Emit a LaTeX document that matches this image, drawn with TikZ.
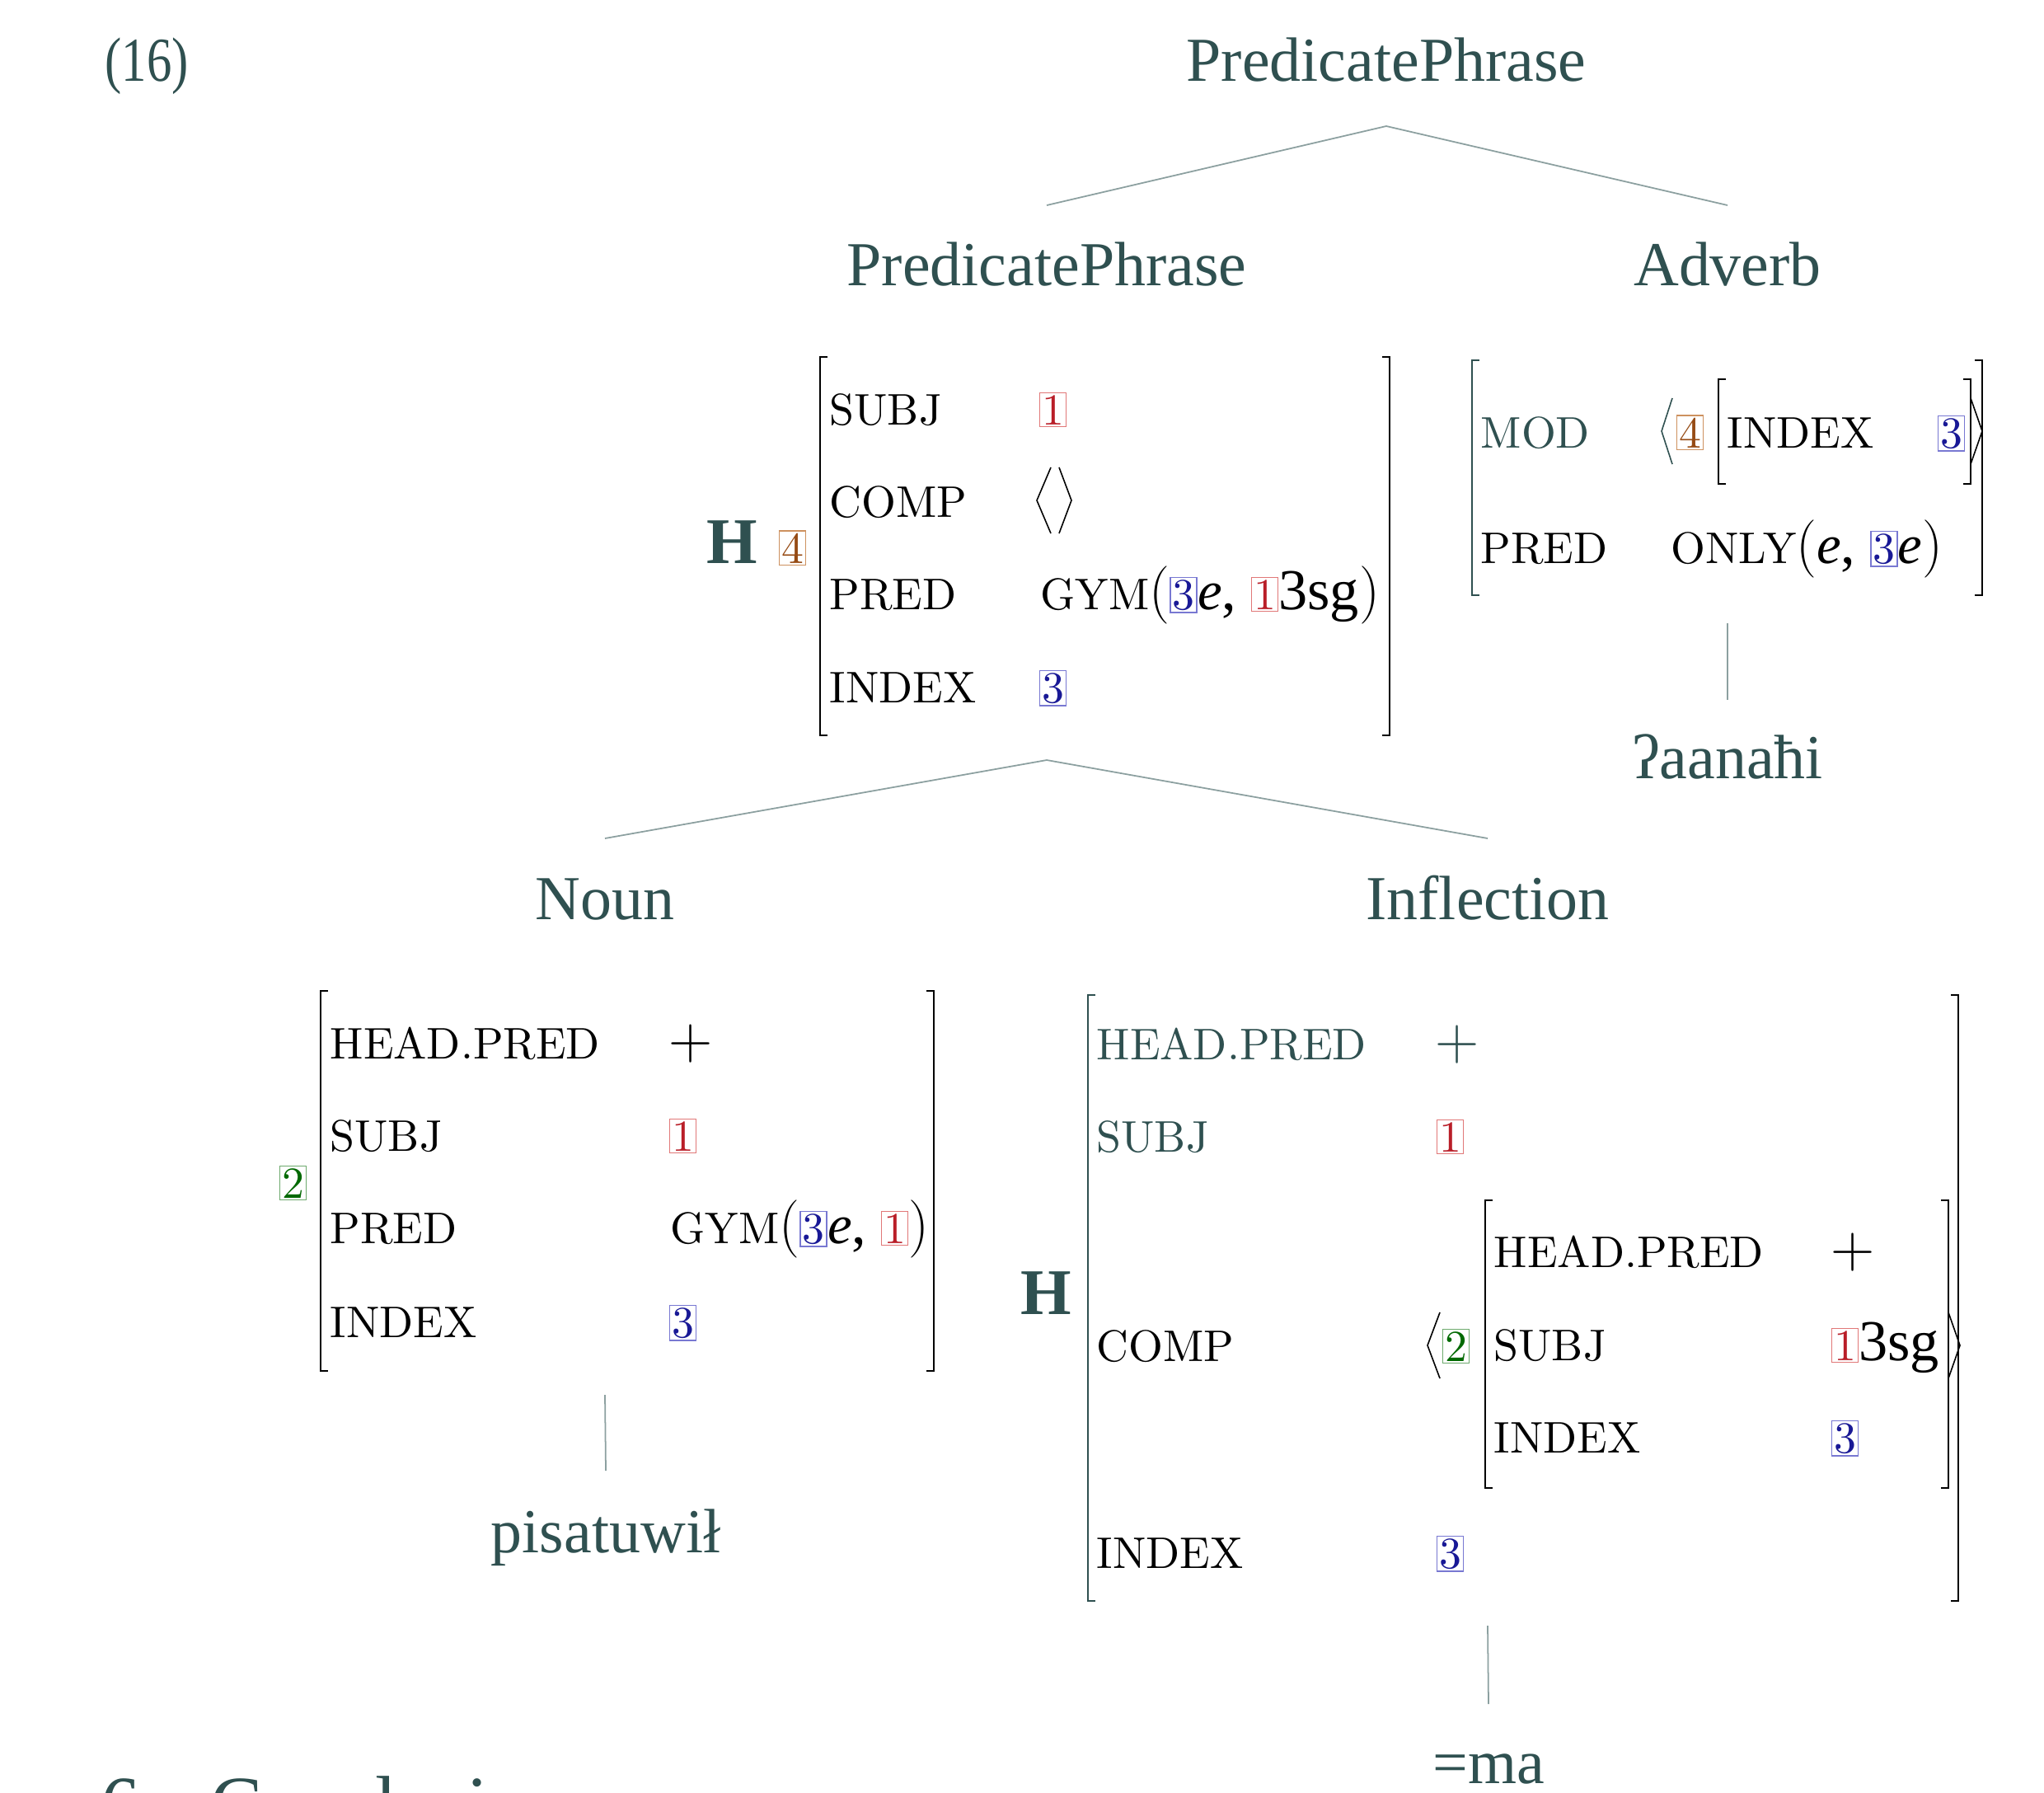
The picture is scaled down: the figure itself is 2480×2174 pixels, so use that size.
\documentclass[tikz,border=0pt]{standalone}
\usepackage{fontspec}
\newfontfamily\tf{Liberation Serif}
\newfontfamily\avfam{lmroman10-regular.otf}
\definecolor{treec}{RGB}{47,80,80}
\definecolor{linec}{RGB}{140,160,160}
\definecolor{tagRd}{RGB}{185,30,40}\definecolor{tagRb}{RGB}{225,120,120}
\definecolor{tagBd}{RGB}{25,25,150}\definecolor{tagBb}{RGB}{120,120,210}
\definecolor{tagGd}{RGB}{0,105,0}\definecolor{tagGb}{RGB}{110,170,110}
\definecolor{tagOd}{RGB}{150,75,20}\definecolor{tagOb}{RGB}{205,145,95}
\newcommand\avf{\fontsize{15.3}{18}\selectfont\avfam}
\newcommand\tgf{\fontsize{15.3}{18}\selectfont}
\newcommand\bgf{\fontsize{21.6}{26}\selectfont\tf}
\newcommand\sgf{\fontsize{20}{24}\selectfont\tf}
\newcommand\ef{\fontsize{19}{24}\selectfont\tf\itshape}
\newcommand\pf{\fontsize{20}{24}\selectfont\rmfamily}
\newcommand\tg[2]{{\setlength\fboxsep{0.5pt}\setlength\fboxrule{0.45pt}\fcolorbox{tag#1b}{white}{\tgf\textcolor{tag#1d}{#2}}}}
\tikzset{
  lab/.style={anchor=base, inner sep=0, font=\bgf, text=treec},
  att/.style={anchor=base west, inner sep=0, font=\avf},
  hd/.style={anchor=base west, inner sep=0, font=\fontsize{22.5}{26}\selectfont\tf\bfseries, text=treec},
  pls/.style={anchor=base west, inner sep=0, font=\fontsize{21}{24}\selectfont\rmfamily},
  tree/.style={draw=linec, line width=0.5pt},
  brk/.style={line width=0.6pt, line cap=butt},
  ang/.style={line width=0.45pt, line join=miter}
}
\newcommand\lbr[4]{\draw[brk,#4] (#1+9,#2) -- (#1,#2) -- (#1,#3) -- (#1+9,#3);}
\newcommand\rbr[4]{\draw[brk,#4] (#1-9,#2) -- (#1,#2) -- (#1,#3) -- (#1-9,#3);}
\begin{document}
\begin{tikzpicture}[x=0.1mm,y=-0.1mm]
\useasboundingbox (0,0) rectangle (2480,2174);
% example number
\node[lab, anchor=base west] (exnum) at (127,98) {\scalebox{0.8}[1]{(16)}};
% tree labels
\node[lab] (top) at (1682,98) {PredicatePhrase};
\node[lab] (pp) at (1270,346) {PredicatePhrase};
\node[lab] (adv) at (2096,346) {Adverb};
\node[lab] (noun) at (734,1115) {Noun};
\node[lab] (infl) at (1805,1115) {Inflection};
\node[lab] (w1) at (2096,944) {ʔaanaħi};
\node[lab] (w2) at (735,1883) {pisatuwił};
\node[lab] (w3) at (1806,2163) {=ma};
% cut-off heading
\node[anchor=base west, inner sep=0, font=\fontsize{27}{30}\selectfont\tf, text=treec] (sec) at (122,2220) {6\hspace{0.9em}Conclusion};
% connector ends
\path (top.base) ++(0,55) coordinate (top-b);
\path (pp.base) ++(0,-97) coordinate (pp-t);
\path (adv.base) ++(0,-97) coordinate (adv-t);
\path (pp.base) ++(0,576) coordinate (pp-b);
\path (noun.base) ++(0,-98) coordinate (noun-t);
\path (infl.base) ++(0,-98) coordinate (infl-t);
\path (adv.base) ++(0,410) coordinate (adv-b);
\path (w1.base) ++(0,-95) coordinate (w1-t);
\path (noun.base) ++(0,577) coordinate (noun-b);
\path (w2.base) ++(0,-99) coordinate (w2-t);
\path (infl.base) ++(0,857) coordinate (infl-b);
\path (w3.base) ++(0,-96) coordinate (w3-t);
\draw[tree] (pp-t) -- (top-b) -- (adv-t);
\draw[tree] (noun-t) -- (pp-b) -- (infl-t);
\draw[tree] (adv-b) -- (w1-t);
\draw[tree] (noun-b) -- (w2-t);
\draw[tree] (infl-b) -- (w3-t);

% ===== PredicatePhrase AVM =====
\node[hd] (ppH) at (857,683) {H};
\node[att] (ppTag) at (944,683) {\tg{O}{4}};
\lbr{995}{433}{892}{black}
\rbr{1686}{433}{892}{black}
\node[att] (ppS) at (1006,515) {SUBJ};
\node[att] (ppC) at (1006,627) {COMP};
\node[att] (ppP) at (1006,739) {PRED};
\node[att] (ppI) at (1006,852) {INDEX};
\node[att] (ppSv) at (1260,515) {\tg{R}{1}};
\draw[ang] (1275,567) -- (1258,607) -- (1275,647);
\draw[ang] (1285,567) -- (1300,607) -- (1285,647);
\node[att] (ppPv) at (1262,739) {GYM{\pf(}\tg{B}{3}{\ef e}{\sgf, }\tg{R}{1}{\sgf 3sg}{\pf)}};
\node[att] (ppIv) at (1260,852) {\tg{B}{3}};

% ===== Adverb AVM =====
\lbr{1786}{437}{722}{treec}
\rbr{2405}{437}{722}{black}
\node[att, text=treec] (advM) at (1796,543) {MOD};
\draw[ang, treec] (2029,483) -- (2016,523) -- (2029,563);
\node[att] (advTag) at (2033,543) {\tg{O}{4}};
\lbr{2085}{460}{587}{black}
\node[att] (advI) at (2095,543) {INDEX};
\node[att] (advIv) at (2350,543) {\tg{B}{3}};
\rbr{2391}{460}{587}{black}
\draw[ang] (2391,483) -- (2405,523) -- (2391,563);
\node[att] (advP) at (1796,683) {PRED};
\node[att] (advPv) at (2027,683) {ONLY{\pf(}{\ef e}{\sgf, }\tg{B}{3}{\ef e}{\pf)}};

% ===== Noun AVM =====
\node[att] (nTag) at (338,1453) {\tg{G}{2}};
\lbr{389}{1202}{1663}{black}
\rbr{1133}{1202}{1663}{black}
\node[att] (nH) at (400,1284) {HEAD.PRED};
\node[pls] (nHv) at (811,1284) {+};
\node[att] (nS) at (400,1396) {SUBJ};
\node[att] (nSv) at (811,1396) {\tg{R}{1}};
\node[att] (nP) at (400,1508) {PRED};
\node[att] (nPv) at (813,1508) {GYM{\pf(}\tg{B}{3}{\ef e}{\sgf, }\tg{R}{1}{\pf)}};
\node[att] (nI) at (400,1622) {INDEX};
\node[att] (nIv) at (811,1622) {\tg{B}{3}};

% ===== Inflection AVM =====
\node[hd] (iH) at (1238,1594) {H};
\lbr{1320}{1207}{1942}{treec}
\rbr{2376}{1207}{1942}{black}
\node[att, text=treec] (iHP) at (1330,1285) {HEAD.PRED};
\node[pls, text=treec] (iHPv) at (1741,1285) {+};
\node[att, text=treec] (iS) at (1330,1397) {SUBJ};
\node[att] (iSv) at (1742,1397) {\tg{R}{1}};
\node[att] (iC) at (1330,1651) {COMP};
\draw[ang] (1747,1592) -- (1732,1632) -- (1747,1672);
\node[att] (iCtag) at (1749,1651) {\tg{G}{2}};
\lbr{1802}{1456}{1805}{black}
\rbr{2364}{1456}{1805}{black}
\draw[ang] (2364,1592) -- (2378,1632) -- (2364,1672);
\node[att] (jHP) at (1812,1537) {HEAD.PRED};
\node[pls] (jHPv) at (2221,1537) {+};
\node[att] (jS) at (1812,1650) {SUBJ};
\node[att] (jSv) at (2221,1650) {\tg{R}{1}{\sgf 3sg}};
\node[att] (jI) at (1812,1762) {INDEX};
\node[att] (jIv) at (2221,1762) {\tg{B}{3}};
\node[att] (iI) at (1330,1902) {INDEX};
\node[att] (iIv) at (1742,1902) {\tg{B}{3}};
\end{tikzpicture}
\end{document}
